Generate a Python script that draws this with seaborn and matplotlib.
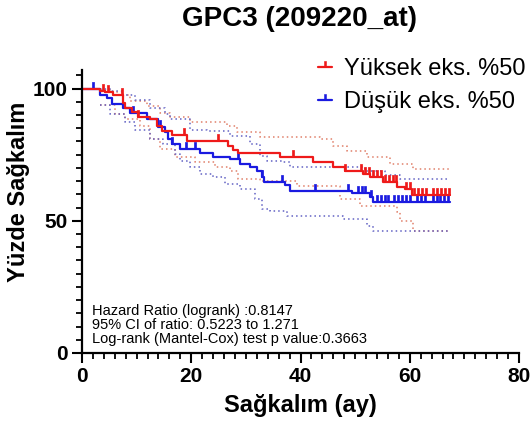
import numpy as np
import matplotlib
matplotlib.use("Agg")
import matplotlib.pyplot as plt
from matplotlib.path import Path
from matplotlib.lines import Line2D
from matplotlib.ticker import MultipleLocator
import seaborn as sns

# Kaplan-Meier estimates (months, percent surviving)
high_t = [0, 3.3, 4.2, 5.7, 7.5, 7.9, 9.2, 10.3, 12.4, 13.7, 14.6, 16.5, 19.2, 26.7, 27.6,
          28.6, 36.2, 42.3, 45.9, 48.1, 51.4, 52.7, 55.1, 57.7, 59.1, 60.4, 67.4]
high_s = [100, 99.2, 98.5, 97.4, 94.7, 92.8, 91.3, 89.4, 88.3, 85.7, 83.8, 82.6, 80.0, 78.1, 76.6,
          75.5, 74.0, 72.1, 70.2, 68.7, 67.5, 66.4, 64.5, 62.6, 61.9, 59.8, 59.8]
high_censor = [3.8, 4.8, 7.3, 10.3, 18.7, 24.9, 38.6, 48.1, 51.0, 51.8, 52.5, 53.2, 54.0, 54.8,
               55.5, 56.2, 57.0, 57.5, 59.3, 60.0, 60.8, 61.6, 62.3, 63.0, 64.3, 65.0, 65.7,
               66.4, 67.1]

low_t = [0, 3.3, 4.6, 5.5, 7.5, 8.8, 11.9, 13.9, 15.2, 15.7, 16.5, 17.9, 21.6, 24.0, 27.1,
         28.9, 30.8, 32.0, 33.0, 33.3, 37.2, 38.1, 49.4, 52.7, 53.3, 67.4]
low_s = [100, 97.7, 96.6, 94.0, 92.8, 90.9, 88.3, 85.3, 83.4, 80.8, 78.9, 77.0, 75.8, 74.0, 73.2,
         71.3, 70.2, 68.7, 66.4, 64.5, 63.4, 61.1, 60.4, 58.9, 57.0, 57.0]
low_censor = [2.0, 9.3, 14.3, 16.5, 19.0, 20.7, 28.6, 33.0, 36.6, 42.7, 48.7, 50.5, 51.2, 51.8,
              52.9, 54.0, 54.7, 55.4, 56.1, 57.2, 57.9, 58.6, 59.3, 60.0, 61.4, 62.1, 62.8,
              64.2, 64.9, 65.6, 66.3, 67.0]

# 95% confidence bands
high_up_t = [3.3, 5.7, 7.5, 8.8, 11.9, 14.3, 16.1, 19.8, 26.5, 28.4, 32.6, 43.6, 45.9, 48.5,
             52.2, 56.4, 60.6, 67.4]
high_up_s = [99.6, 98.5, 97.7, 95.1, 93.2, 90.9, 89.1, 87.5, 85.7, 83.4, 81.5, 80.8, 78.1, 76.2,
             74.0, 71.3, 69.4, 69.4]
high_lo_t = [3.3, 6.0, 7.9, 10.6, 12.4, 14.3, 17.0, 20.7, 24.3, 27.1, 28.6, 32.6, 39.4, 47.2,
             50.9, 57.7, 58.2, 60.6, 67.4]
high_lo_s = [93.6, 90.2, 88.3, 85.7, 80.8, 77.0, 74.0, 72.1, 70.2, 68.7, 65.7, 64.9, 63.0, 58.1,
             55.5, 53.2, 49.8, 46.0, 46.0]
low_up_t = [3.3, 5.5, 7.5, 9.7, 12.4, 15.2, 16.1, 19.8, 22.9, 27.1, 30.8, 32.6, 33.9, 36.8,
            38.1, 51.8, 55.5, 58.2, 67.4]
low_up_s = [100, 99.2, 97.7, 95.8, 92.8, 90.2, 88.3, 84.5, 83.8, 81.9, 78.9, 74.3, 72.5, 72.1,
            70.2, 68.7, 67.2, 65.7, 65.7]
low_lo_t = [3.3, 5.1, 7.9, 9.7, 12.4, 14.8, 17.0, 17.9, 19.8, 21.6, 24.0, 26.2, 28.9, 31.7,
            33.0, 34.4, 37.5, 47.8, 52.2, 53.3, 67.4]
low_lo_s = [93.6, 90.2, 87.5, 84.5, 80.8, 78.9, 75.1, 72.5, 70.2, 67.5, 66.4, 63.8, 61.9, 58.1,
            54.3, 53.6, 51.7, 50.6, 47.9, 46.0, 46.0]

labels = ["Yüksek eks. %50", "Düşük eks. %50"]
stats_lines = ["Hazard Ratio (logrank) :0.8147",
               "95% CI of ratio: 0.5223 to 1.271",
               "Log-rank (Mantel-Cox) test p value:0.3663"]

RED = "#ee1a1a"
BLUE = "#1a1ae0"
RED_CI = "#e0806a"
BLUE_CI = "#6262c4"

sns.set_style("ticks")
plt.rcParams["font.family"] = ["Liberation Sans", "DejaVu Sans"]
plt.rcParams.update({"text.color": "black", "axes.labelcolor": "black",
                     "xtick.color": "black", "ytick.color": "black"})

fig = plt.figure(figsize=(5.30, 4.32), dpi=100)
ax = fig.add_axes([82 / 530, 1 - 353 / 432, (519 - 82) / 530, (353 - 70) / 432])


def censor_marker(half_width):
    # tick rising upward from the survival line
    return Path([(-half_width, 0), (half_width, 0), (half_width, 1), (-half_width, 1),
                 (-half_width, 0)],
                [Path.MOVETO, Path.LINETO, Path.LINETO, Path.LINETO, Path.CLOSEPOLY])


tick_marker = censor_marker(0.17)


def step_value(t, s, x):
    i = np.searchsorted(np.asarray(t), x, side="right") - 1
    return np.asarray(s)[i]


for t, s, col in [(high_up_t, high_up_s, RED_CI), (high_lo_t, high_lo_s, RED_CI),
                  (low_up_t, low_up_s, BLUE_CI), (low_lo_t, low_lo_s, BLUE_CI)]:
    sns.lineplot(x=t, y=s, ax=ax, color=col, lw=1.1, linestyle=(0, (1, 2)),
                 drawstyle="steps-post", estimator=None, sort=False)

for t, s, cens, col in [(low_t, low_s, low_censor, BLUE), (high_t, high_s, high_censor, RED)]:
    sns.lineplot(x=t, y=s, ax=ax, color=col, lw=1.6, drawstyle="steps-post",
                 estimator=None, sort=False)
    cy = [step_value(t, s, c) for c in cens]
    ax.plot(cens, cy, linestyle="none", marker=tick_marker, markersize=10,
            color=col, markeredgewidth=0.5)

ax.set_xlim(0, 80)
ax.set_ylim(0, 107)
ax.xaxis.set_major_locator(MultipleLocator(20))
ax.xaxis.set_minor_locator(MultipleLocator(2))
ax.yaxis.set_major_locator(MultipleLocator(50))
ax.yaxis.set_minor_locator(MultipleLocator(5))
ax.tick_params(which="major", length=7, width=1.5, labelsize=15, pad=3, color="black",
               labelcolor="black")
ax.tick_params(which="minor", length=4, width=1.3, color="black")
for lab in ax.get_xticklabels() + ax.get_yticklabels():
    lab.set_fontweight("bold")
for side in ["left", "bottom"]:
    ax.spines[side].set_linewidth(1.6)
    ax.spines[side].set_color("black")
sns.despine(ax=ax)

ax.set_xlabel("Sağkalım (ay)", fontsize=17, fontweight="bold", labelpad=6)
ax.set_ylabel("Yüzde Sağkalım", fontsize=17, fontweight="bold")
ax.yaxis.set_label_coords(-0.118, 0.57)
fig.suptitle("GPC3 (209220_at)", x=0.566, y=0.985, fontsize=20, fontweight="bold")

ax.text(1.8, 2.6, "\n".join(stats_lines), fontsize=10.5, va="bottom", ha="left",
        linespacing=1.0)

legend_marker = censor_marker(0.1)
handles = [Line2D([], [], color=RED, lw=1.6, marker=legend_marker, markersize=8,
                  markeredgewidth=0.4),
           Line2D([], [], color=BLUE, lw=1.6, marker=legend_marker, markersize=8,
                  markeredgewidth=0.4)]
fig.legend(handles, labels, loc="upper left", bbox_to_anchor=(0.6, 0.865), frameon=False,
           fontsize=17, handlelength=0.6, handletextpad=0.5, labelspacing=0.45,
           borderpad=0, borderaxespad=0)

fig.savefig("out.png", dpi=100)
